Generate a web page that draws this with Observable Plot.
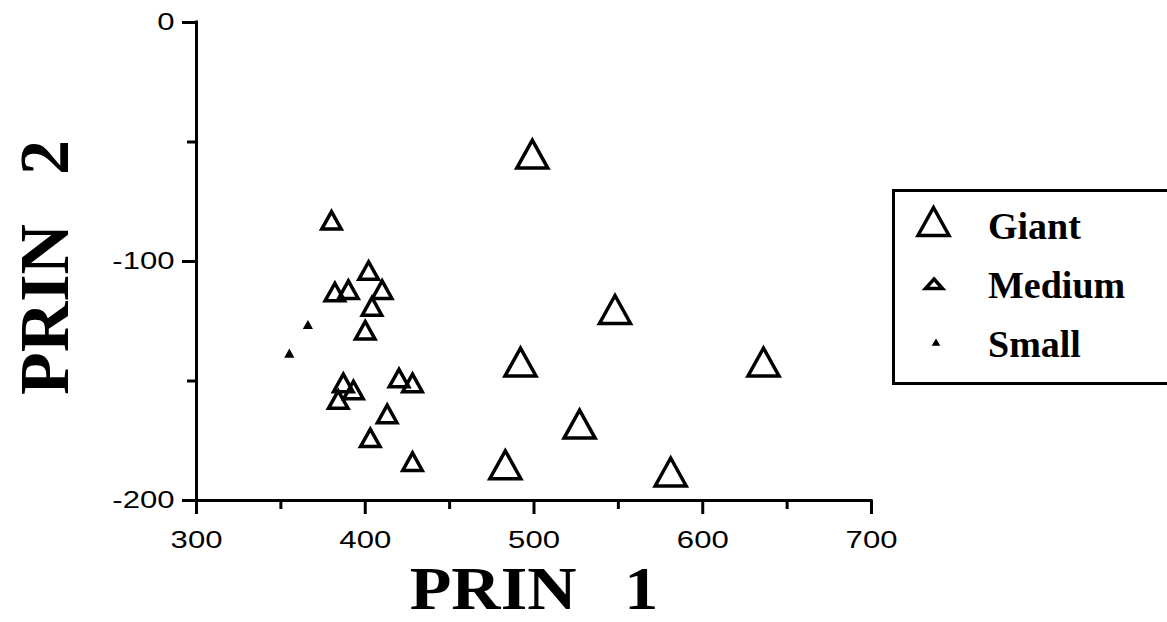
<!DOCTYPE html>
<html><head><meta charset="utf-8">
<script src="https://cdn.jsdelivr.net/npm/d3@7"></script>
<script src="https://cdn.jsdelivr.net/npm/@observablehq/plot@0.6"></script>
<style>
html,body{margin:0;padding:0;background:#fff;overflow:hidden;}
#wrap{position:relative;width:1167px;height:622px;overflow:hidden;background:#fff;}
#wrap svg{display:block;}
#legend{position:absolute;left:0;top:0;pointer-events:none;}
</style></head><body><div id="wrap"></div>
<script>
// ---- data ----
const giantX = [499, 548, 492, 636, 527, 483, 581];
const giantY = [-57, -122, -144, -144, -170, -187, -190];
const mediumX = [380, 402, 382, 390, 410, 404, 400, 420, 428, 387, 393, 384, 413, 403, 428];
const mediumY = [-84, -105, -114, -113, -113, -120, -130, -150, -152, -152, -155, -159, -165, -175, -185];
const smallX = [366, 355];
const smallY = [-127, -139];
const xMajor = [300, 400, 500, 600, 700];
const xMinor = [350, 450, 550, 650];
const yMajor = [0, -100, -200];
const yMinor = [-50, -150];
const xTitle = "PRIN\u00a0\u00a0\u20091";
const yTitle = "PRIN\u00a0\u00a0\u20092";
const groups = ["Giant", "Medium", "Small"];

const toRows = (xs, ys, g) => xs.map((x, i) => ({x, y: ys[i], group: g}));
const giant = toRows(giantX, giantY, "Giant");
const medium = toRows(mediumX, mediumY, "Medium");
const small = toRows(smallX, smallY, "Small");

// isosceles triangle symbol, centroid at origin
const tri = {
  draw(ctx, size) {
    const r = Math.sqrt(size / Math.PI);
    const w = 2 * r, h = 1.8 * r;
    ctx.moveTo(0, -2 * h / 3);
    ctx.lineTo(w / 2, h / 3);
    ctx.lineTo(-w / 2, h / 3);
    ctx.closePath();
  }
};

const serif = "'Liberation Serif', 'Times New Roman', serif";
const sans = "'Liberation Sans', Arial, sans-serif";

const chart = Plot.plot({
  width: 1167, height: 622,
  marginLeft: 196, marginRight: 296, marginTop: 22, marginBottom: 122,
  x: {domain: [300, 700]},
  y: {domain: [-200, 0]},
  style: {fontFamily: sans, fontSize: "22px", background: "#fff", color: "#000"},
  marks: [
    Plot.ruleY([-200], {strokeWidth: 3, strokeLinecap: "square"}),
    Plot.ruleX([300], {strokeWidth: 3, strokeLinecap: "square"}),
    Plot.axisX({ticks: xMajor, tickSize: 14, tickPadding: 17, strokeWidth: 3, fontSize: 23, label: null, tickFormat: d => String(d)}),
    Plot.axisX({ticks: xMinor, tickSize: 9, strokeWidth: 3, label: null, tickFormat: () => ""}),
    Plot.axisY({ticks: yMajor, tickSize: 14, tickPadding: 8, strokeWidth: 3, fontSize: 23, label: null, tickFormat: d => String(d)}),
    Plot.axisY({ticks: yMinor, tickSize: 9, strokeWidth: 3, label: null, tickFormat: () => ""}),
    Plot.dot(giant, {x: "x", y: "y", r: 15.5, symbol: tri, stroke: "#000", strokeWidth: 3.5, fill: "none", strokeLinejoin: "miter"}),
    Plot.dot(medium, {x: "x", y: "y", r: 9.75, symbol: tri, stroke: "#000", strokeWidth: 3.5, fill: "none", strokeLinejoin: "miter"}),
    Plot.dot(small, {x: "x", y: "y", r: 3.8, symbol: tri, stroke: "#000", strokeWidth: 1.5, fill: "#000"}),
    Plot.text([xTitle], {text: d => d, frameAnchor: "bottom", dx: 0, dy: 108, lineAnchor: "bottom", textAnchor: "middle", fontSize: 62, fontWeight: "bold", fontFamily: serif}),
    Plot.text([yTitle], {text: d => d, frameAnchor: "left", dx: -129, dy: 6, rotate: -90, lineAnchor: "bottom", textAnchor: "middle", fontSize: 70, fontWeight: "bold", fontFamily: serif})
  ]
});

const wrap = document.getElementById("wrap");
wrap.appendChild(chart);

// stretch tick labels horizontally like the original
chart.querySelectorAll('g[aria-label="x-axis tick label"] text, g[aria-label="y-axis tick label"] text').forEach(t => {
  const len = t.getComputedTextLength();
  if (len > 0) {
    t.setAttribute("textLength", (len * 1.35).toFixed(1));
    t.setAttribute("lengthAdjust", "spacingAndGlyphs");
  }
});
// widen the x title slightly to match the original's width
chart.querySelectorAll("text").forEach(t => {
  if (t.textContent === xTitle) {
    const len = t.getComputedTextLength();
    t.setAttribute("textLength", (len * 1.1).toFixed(1));
    t.setAttribute("lengthAdjust", "spacingAndGlyphs");
  }
});

// legend (boxed, at right of the plot)
const leg = d3.select(wrap).append("svg")
  .attr("id", "legend").attr("width", 1167).attr("height", 622);
leg.append("rect").attr("x", 893.5).attr("y", 190.5).attr("width", 400).attr("height", 193)
  .attr("fill", "none").attr("stroke", "#000").attr("stroke-width", 3);
const icons = [
  {d: "M933.5,207.5L949,235.5L918,235.5Z", fill: "none", sw: 3.5},
  {d: "M934,279L942.5,288.5L925.5,288.5Z", fill: "none", sw: 3.5},
  {d: "M936,340L939,345L933,345Z", fill: "#000", sw: 1.5}
];
const baselines = [239, 298, 357];
groups.forEach((g, i) => {
  leg.append("path").attr("d", icons[i].d).attr("fill", icons[i].fill)
    .attr("stroke", "#000").attr("stroke-width", icons[i].sw).attr("stroke-linejoin", "miter");
  leg.append("text").attr("x", 988).attr("y", baselines[i])
    .attr("font-family", serif).attr("font-weight", "bold").attr("font-size", 38)
    .attr("fill", "#000").text(g);
});
</script>
</body></html>
